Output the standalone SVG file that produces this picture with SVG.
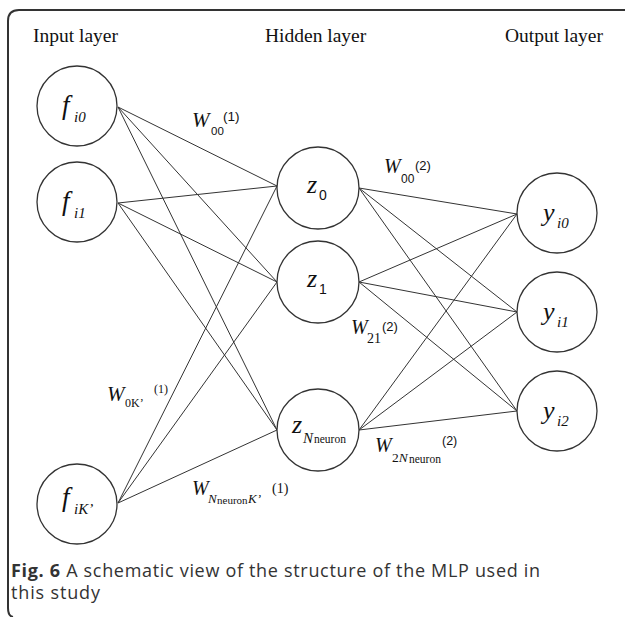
<svg xmlns="http://www.w3.org/2000/svg" width="625" height="617" viewBox="0 0 625 617">
<style>
.node circle{fill:#fff;stroke:#333;stroke-width:1.3}
.edges line{stroke:#333;stroke-width:1}
.hdr{font-family:"Liberation Serif","Times New Roman",serif;font-size:19.5px;fill:#111}
.lbl{font-family:"Liberation Serif","Times New Roman",serif;fill:#111}
.it{font-style:italic}
.sans{font-family:"Liberation Sans",Arial,sans-serif}
.cap{font-family:"Open Sans","Noto Sans",sans-serif;font-size:18px;fill:#333}
</style>
<rect width="625" height="617" fill="#fff"/>
<path d="M625 10 L19 10 Q8 10 8 21 L8 608 Q8 616 13 617" fill="none" stroke="#333" stroke-width="2"/>
<text class="hdr" x="33" y="42">Input layer</text>
<text class="hdr" x="265" y="42">Hidden layer</text>
<text class="hdr" x="505" y="42">Output layer</text>
<g class="edges" id="connectors">
<line x1="118" y1="107" x2="277" y2="186"/>
<line x1="118" y1="107" x2="277" y2="282"/>
<line x1="118" y1="107" x2="277" y2="430"/>
<line x1="118" y1="203" x2="277" y2="186"/>
<line x1="118" y1="203" x2="277" y2="282"/>
<line x1="118" y1="203" x2="277" y2="430"/>
<line x1="118" y1="503" x2="277" y2="186"/>
<line x1="118" y1="503" x2="277" y2="282"/>
<line x1="118" y1="503" x2="277" y2="430"/>
<line x1="359" y1="188" x2="517" y2="214"/>
<line x1="359" y1="188" x2="517" y2="312"/>
<line x1="359" y1="188" x2="517" y2="411"/>
<line x1="359" y1="282" x2="517" y2="214"/>
<line x1="359" y1="282" x2="517" y2="312"/>
<line x1="359" y1="282" x2="517" y2="411"/>
<line x1="359" y1="430" x2="517" y2="214"/>
<line x1="359" y1="430" x2="517" y2="312"/>
<line x1="359" y1="430" x2="517" y2="411"/>
</g>
<g class="node" id="f_i0"><circle cx="77" cy="106" r="40"/>
<text class="lbl it" x="62" y="114" font-size="27">f</text><text class="lbl it" x="74" y="122" font-size="15">i0</text></g>
<g class="node" id="f_i1"><circle cx="77" cy="202" r="40"/>
<text class="lbl it" x="62" y="210" font-size="27">f</text><text class="lbl it" x="74" y="218" font-size="15">i1</text></g>
<g class="node" id="f_iK"><circle cx="77" cy="504" r="40"/>
<text class="lbl it" x="62" y="506" font-size="27">f</text><text class="lbl it" x="74" y="514" font-size="15">iK’</text></g>
<g class="node" id="z_0"><circle cx="318" cy="188" r="41"/>
<text class="lbl it" x="307" y="193" font-size="26">z</text><text class="lbl sans" x="319" y="200" font-size="14">0</text></g>
<g class="node" id="z_1"><circle cx="318" cy="282" r="41"/>
<text class="lbl it" x="307" y="287" font-size="26">z</text><text class="lbl sans" x="319" y="294" font-size="14">1</text></g>
<g class="node" id="z_N"><circle cx="318" cy="430" r="41"/>
<text class="lbl it" x="292" y="433" font-size="26">z</text><text class="lbl it" x="303" y="443" font-size="15">N</text><text class="lbl" x="314" y="443" font-size="11.5">neuron</text></g>
<g class="node" id="y_i0"><circle cx="557" cy="213" r="40"/>
<text class="lbl it" x="543" y="221" font-size="26">y</text><text class="lbl it" x="557" y="228" font-size="15">i0</text></g>
<g class="node" id="y_i1"><circle cx="557" cy="312" r="40"/>
<text class="lbl it" x="543" y="320" font-size="26">y</text><text class="lbl it" x="557" y="327" font-size="15">i1</text></g>
<g class="node" id="y_i2"><circle cx="557" cy="411" r="40"/>
<text class="lbl it" x="543" y="419" font-size="26">y</text><text class="lbl it" x="557" y="426" font-size="15">i2</text></g>
<g id="weights">
<text class="lbl it" x="192" y="127" font-size="21">W</text><text class="lbl sans" x="211" y="135" font-size="11.5">00</text><text class="lbl sans" x="223" y="121" font-size="13.5">(1)</text>
<text class="lbl it" x="384" y="173" font-size="20">W</text><text class="lbl sans" x="401" y="183" font-size="12">00</text><text class="lbl sans" x="415" y="170" font-size="13">(2)</text>
<text class="lbl it" x="351" y="334" font-size="20">W</text><text class="lbl" x="367" y="343" font-size="14">21</text><text class="lbl sans" x="382" y="331" font-size="13">(2)</text>
<text class="lbl it" x="375" y="452" font-size="20">W</text><text class="lbl" x="392" y="462" font-size="13.5">2<tspan class="it">N</tspan></text><text class="lbl" x="409" y="463" font-size="11.5">neuron</text><text class="lbl sans" x="442" y="445" font-size="12.5">(2)</text>
<text class="lbl it" x="107" y="401" font-size="21">W</text><text class="lbl" x="125" y="407" font-size="12">0K’</text><text class="lbl" x="154" y="393" font-size="12">(1)</text>
<text class="lbl it" x="192" y="495" font-size="20">W</text><text class="lbl it" x="208" y="503" font-size="13">N</text><text class="lbl" x="217" y="504" font-size="11">neuron</text><text class="lbl it" x="248" y="503" font-size="13">K’</text><text class="lbl" x="272" y="493" font-size="14">(1)</text>
</g>
<text class="cap" x="11" y="577" textLength="529" lengthAdjust="spacing"><tspan font-weight="bold">Fig. 6</tspan> A schematic view of the structure of the MLP used in</text>
<text class="cap" x="11" y="599" textLength="89" lengthAdjust="spacing">this study</text>
</svg>
